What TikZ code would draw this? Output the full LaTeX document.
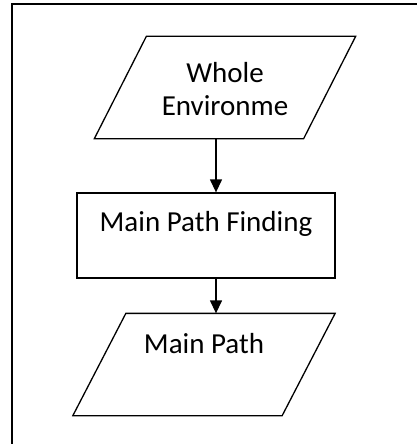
\documentclass[tikz,border=0pt]{standalone}
\usepackage{fontspec}
\setmainfont{Carlito}
\usetikzlibrary{arrows.meta,calc}
\begin{document}
\begin{tikzpicture}[x=1pt,y=-1pt,
  line width=1.3pt,
  txt/.style={anchor=base,inner sep=0pt,font=\fontsize{29}{35}\selectfont},
  slot/.style={draw=none,inner sep=0pt,minimum width=208pt,minimum height=101pt},
  procbox/.style={draw,inner sep=0pt,minimum width=258pt,minimum height=85pt},
  flow/.style={-{Triangle[width=12pt,length=13pt]}}
]
\useasboundingbox (0,0) rectangle (417,444);
% frame around the chart (open at right and bottom)
\draw (12,446) -- (12,4) -- (419,4);

% input: whole environment
\node[slot] (env) at (199,87.5) {};
\draw ($(env.north west)+(52,0)$) -- ($(env.north east)+(52,0)$)
  -- (env.south east) -- (env.south west) -- cycle;
\node[txt] (envA) at (225,82) {Whole};
\node[txt] (envB) at (225,115) {Environme};

% process
\node[procbox] (proc) at (206,235.5) {};
\node[txt] (procT) at (206,231) {Main Path Finding};

% output: main path
\node[slot] (out) at (177.5,364.5) {};
\draw ($(out.north west)+(53,0)$) -- ($(out.north east)+(53,0)$)
  -- (out.south east) -- (out.south west) -- cycle;
\node[txt] (outT) at (204,353) {Main Path};

% connectors
\coordinate (axis) at (216,0);
\draw[flow] (env.south -| axis) -- (proc.north -| axis);
\draw[flow] (proc.south -| axis) -- (out.north -| axis);
\end{tikzpicture}
\end{document}
